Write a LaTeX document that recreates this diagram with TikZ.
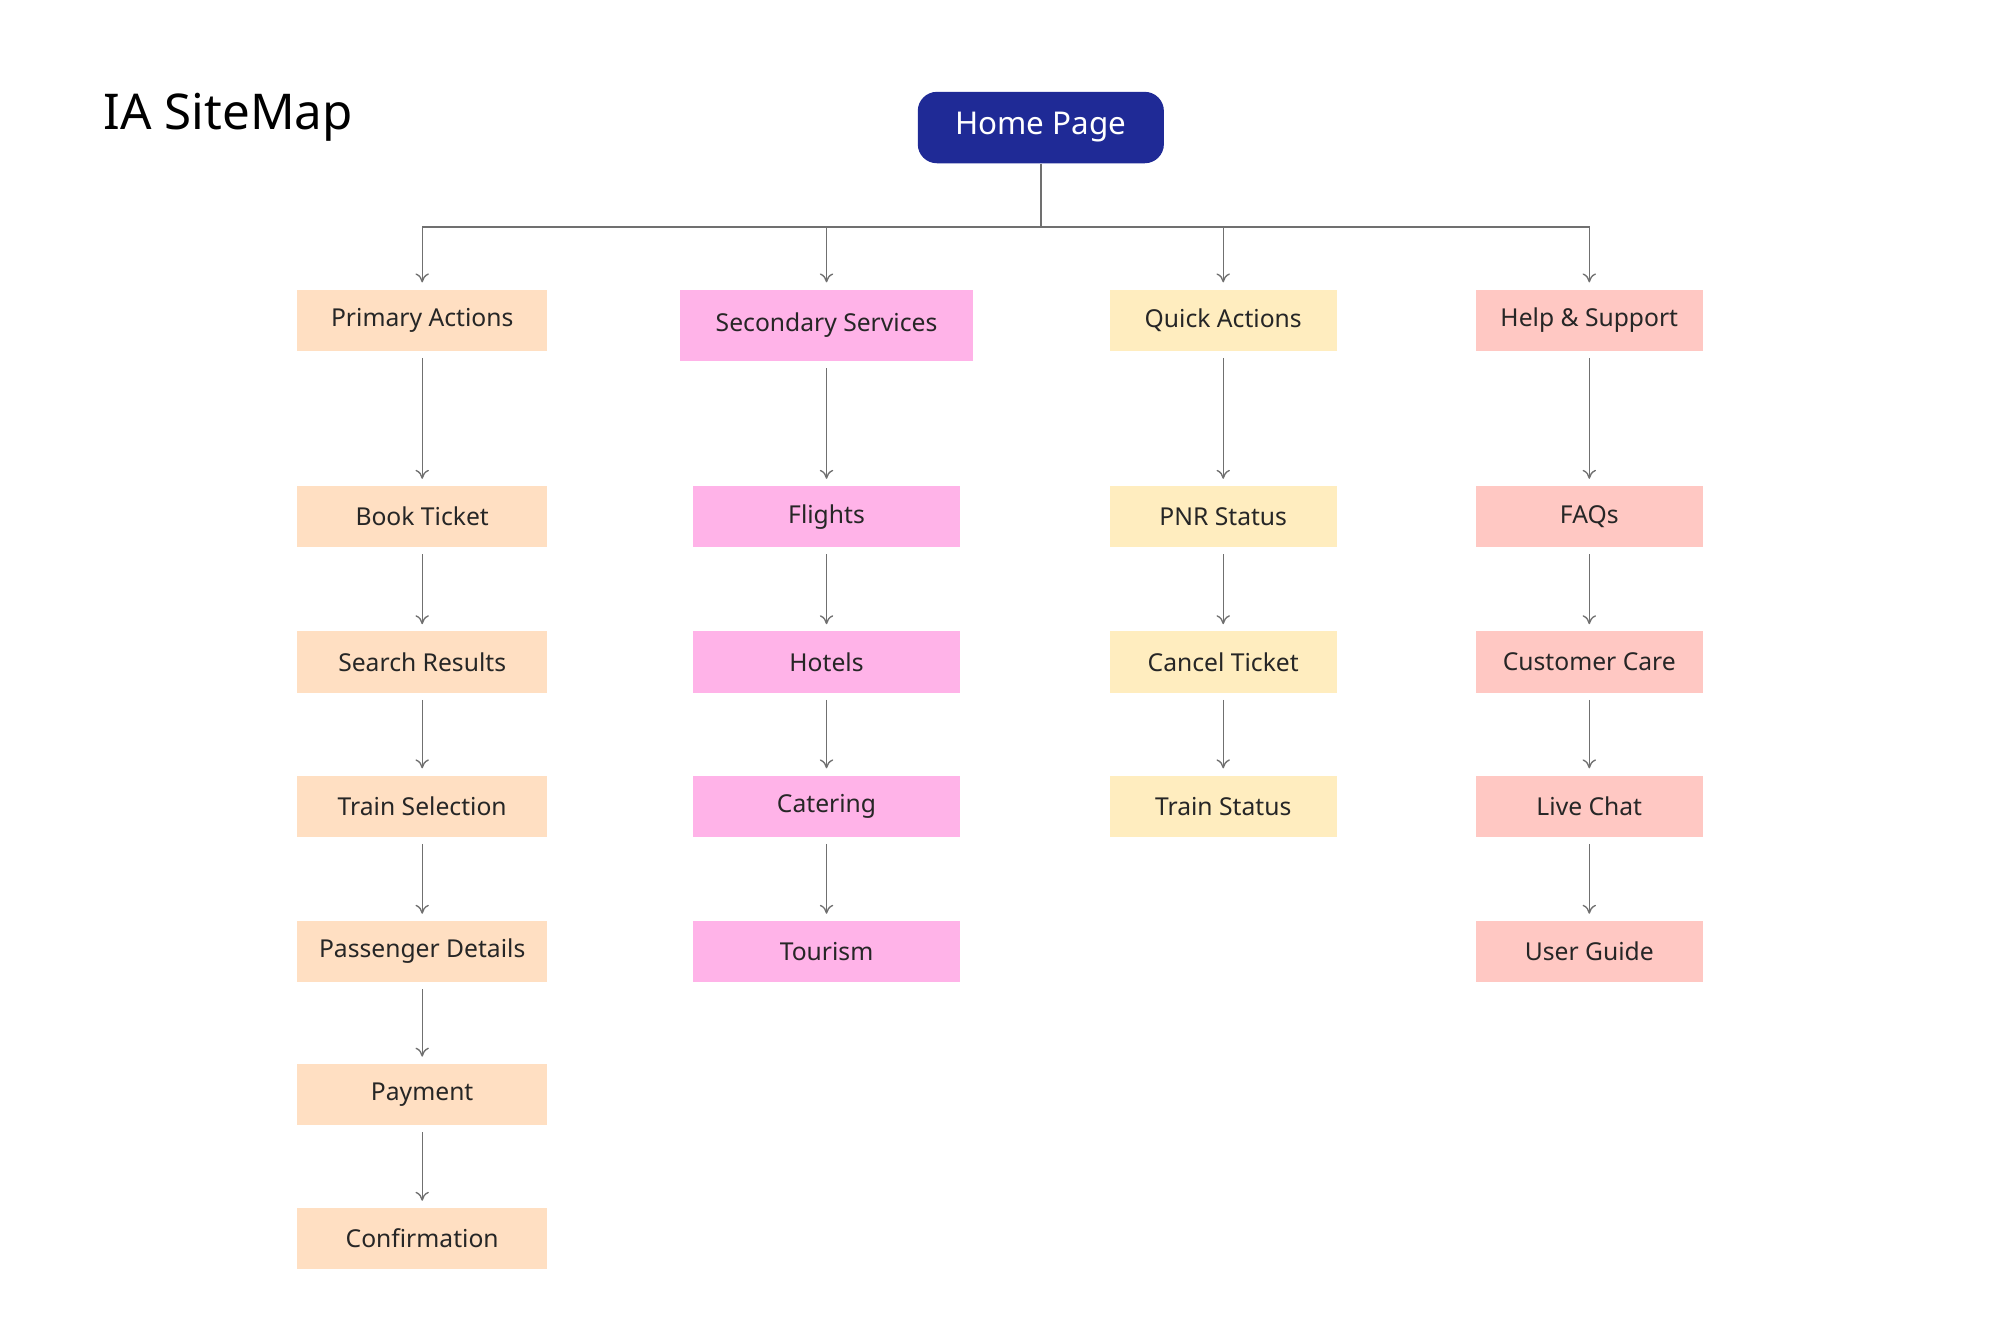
\documentclass[tikz,border=0pt]{standalone}
\usepackage{fontspec}
\setmainfont{Noto Sans}
\usetikzlibrary{arrows.meta}
\definecolor{pa}{HTML}{FFDFC2}
\definecolor{ss}{HTML}{FFB3E8}
\definecolor{qa}{HTML}{FFEDBF}
\definecolor{hs}{HTML}{FFC8C3}
\definecolor{hp}{HTML}{1F2A96}
\definecolor{ln}{HTML}{707070}
\begin{document}
\begin{tikzpicture}[x=0.02cm,y=-0.02cm,
  box/.style={draw=none,minimum height=0.96cm,inner sep=0pt,font=\fontsize{11}{13}\selectfont,text=black!85},
  pab/.style={box,fill=pa,minimum width=3.92cm},
  ssb/.style={box,fill=ss,minimum width=4.2cm},
  qab/.style={box,fill=qa,minimum width=3.56cm},
  hsb/.style={box,fill=hs,minimum width=3.56cm},
  con/.style={draw=ln,line width=0.6pt,-{To[length=4pt,width=6pt]}}]
\useasboundingbox (0,0) rectangle (1568,1038);
\node[anchor=west,font=\fontsize{22}{26}\selectfont\bfseries] (title) at (75,92) {IA SiteMap};
\node[fill=hp,rounded corners=0.3cm,minimum width=3.86cm,minimum height=1.12cm,text=white,font=\fontsize{14}{16}\selectfont] (home) at (816,100) {Home Page};
\node[pab] (pa) at (331,251) {Primary Actions};
\node[ssb,minimum width=4.6cm,minimum height=1.12cm] (ss) at (648,255) {Secondary Services};
\node[qab] (qa) at (959,251) {Quick Actions};
\node[hsb] (hs) at (1246,251) {Help \& Support};
\node[pab] (p1) at (331,405) {Book Ticket};
\node[pab] (p2) at (331,519) {Search Results};
\node[pab] (p3) at (331,632) {Train Selection};
\node[pab] (p4) at (331,746) {Passenger Details};
\node[pab] (p5) at (331,858) {Payment};
\node[pab] (p6) at (331,971) {Confirmation};
\node[ssb] (s1) at (648,405) {Flights};
\node[ssb] (s2) at (648,519) {Hotels};
\node[ssb] (s3) at (648,632) {Catering};
\node[ssb] (s4) at (648,746) {Tourism};
\node[qab] (q1) at (959,405) {PNR Status};
\node[qab] (q2) at (959,519) {Cancel Ticket};
\node[qab] (q3) at (959,632) {Train Status};
\node[hsb] (h1) at (1246,405) {FAQs};
\node[hsb] (h2) at (1246,519) {Customer Care};
\node[hsb] (h3) at (1246,632) {Live Chat};
\node[hsb] (h4) at (1246,746) {User Guide};
\coordinate (j) at (816,178);
\draw[draw=ln,line width=0.6pt] (home.south) -- (j);
\foreach \n in {pa,ss,qa,hs}{\draw[con] (j) -| ([yshift=3pt]\n.north);}
\foreach \a/\b in {pa/p1,p1/p2,p2/p3,p3/p4,p4/p5,p5/p6,ss/s1,s1/s2,s2/s3,s3/s4,qa/q1,q1/q2,q2/q3,hs/h1,h1/h2,h2/h3,h3/h4}{
  \draw[con] ([yshift=-3pt]\a.south) -- ([yshift=3pt]\b.north);}
\end{tikzpicture}
\end{document}
